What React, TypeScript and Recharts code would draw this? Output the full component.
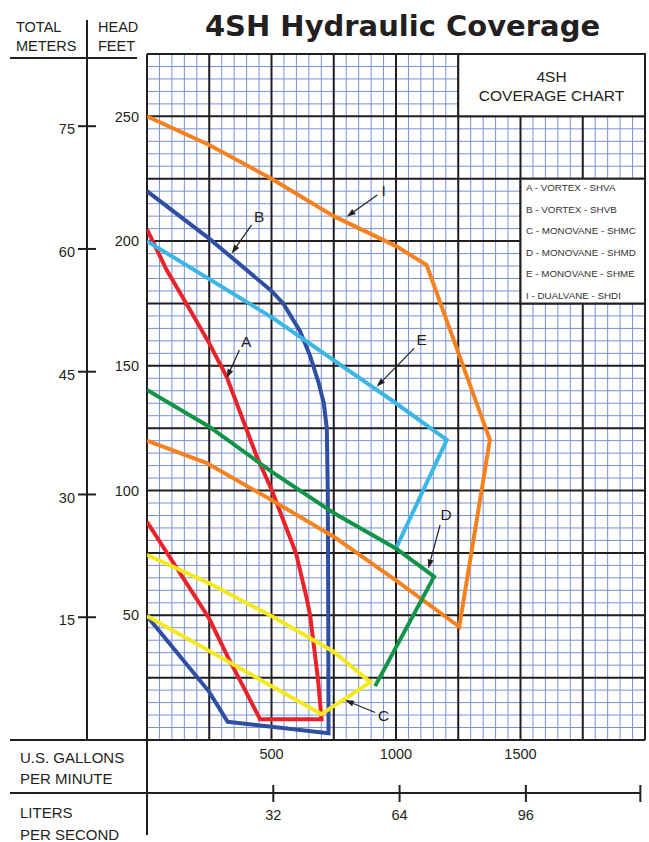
import {
  LineChart, Line, XAxis, YAxis, CartesianGrid,
  ReferenceArea, ReferenceLine, ReferenceDot,
} from 'recharts';

const INK = '#231f20';
const FONT = '"Liberation Sans", Arial, sans-serif';
const GPM_PER_LPS = 15.850;
const FT_PER_M = 3.28084;

// coverage curves as (US gpm, feet of head)
const curveA = [
  { gpm: 0, ft: 204.7 }, { gpm: 79, ft: 188.4 }, { gpm: 173, ft: 172.4 }, { gpm: 250, ft: 159 },
  { gpm: 320, ft: 145.6 }, { gpm: 400, ft: 124.5 }, { gpm: 441, ft: 113.6 }, { gpm: 501, ft: 100.2 },
  { gpm: 598, ft: 75 }, { gpm: 641, ft: 57 }, { gpm: 655, ft: 50 }, { gpm: 686, ft: 25 },
  { gpm: 701, ft: 8.3 }, { gpm: 454, ft: 8.3 }, { gpm: 394, ft: 20 }, { gpm: 327, ft: 32.8 },
  { gpm: 249, ft: 48.8 }, { gpm: 0, ft: 87.5 },
];
const curveB = [
  { gpm: 0, ft: 220 }, { gpm: 250, ft: 201 }, { gpm: 500, ft: 180 }, { gpm: 547, ft: 175 },
  { gpm: 614, ft: 164 }, { gpm: 655, ft: 154 }, { gpm: 690, ft: 143 }, { gpm: 710, ft: 135 },
  { gpm: 722, ft: 125 }, { gpm: 726, ft: 100 }, { gpm: 728, ft: 50 }, { gpm: 729, ft: 2.7 },
  { gpm: 324, ft: 7.3 }, { gpm: 249, ft: 19.4 }, { gpm: 0, ft: 49.7 },
];
const curveC = [
  { gpm: 0, ft: 74.2 }, { gpm: 250, ft: 62.8 }, { gpm: 500, ft: 49.7 }, { gpm: 750, ft: 35.4 },
  { gpm: 897, ft: 23.2 }, { gpm: 700, ft: 10.4 }, { gpm: 0, ft: 49.7 },
];
const curveD = [
  { gpm: 0, ft: 140.3 }, { gpm: 250, ft: 125.6 }, { gpm: 500, ft: 107.6 }, { gpm: 750, ft: 91 },
  { gpm: 1000, ft: 76.8 }, { gpm: 1153, ft: 65.5 }, { gpm: 916, ft: 21.6 },
];
const curveE = [
  { gpm: 0, ft: 200 }, { gpm: 500, ft: 169.5 }, { gpm: 1000, ft: 135 },
  { gpm: 1204, ft: 120.3 }, { gpm: 1000, ft: 76.8 },
];
const curveI = [
  { gpm: 0, ft: 250 }, { gpm: 250, ft: 238.5 }, { gpm: 500, ft: 225 }, { gpm: 750, ft: 210 },
  { gpm: 1000, ft: 198 }, { gpm: 1123, ft: 190.4 }, { gpm: 1377, ft: 120.3 }, { gpm: 1254, ft: 45.4 },
  { gpm: 1000, ft: 64 }, { gpm: 750, ft: 81.5 }, { gpm: 500, ft: 96.2 }, { gpm: 240, ft: 111 },
  { gpm: 0, ft: 120 },
];

const SERIES = [
  { id: 'B', data: curveB, color: '#2f4fa2' },
  { id: 'A', data: curveA, color: '#ea2229' },
  { id: 'I', data: curveI, color: '#f5821f' },
  { id: 'E', data: curveE, color: '#3cb6e7' },
  { id: 'D', data: curveD, color: '#119447' },
  { id: 'C', data: curveC, color: '#f4e91f' },
];

// letter callouts: label spot, arrow start, arrow tip (gpm, ft)
const CALLOUTS = [
  { label: 'I', at: [950, 220.2], from: [925, 218.5], to: [802, 209.8] },
  { label: 'B', at: [450, 210], from: [420, 206.5], to: [340, 195] },
  { label: 'A', at: [398, 159.7], from: [371, 156.3], to: [320, 145] },
  { label: 'E', at: [1103, 160.4], from: [1073, 157], to: [922, 141.6] },
  { label: 'D', at: [1201, 90.2], from: [1177, 86.2], to: [1130, 68.8] },
  { label: 'C', at: [950, 10], from: [916, 11], to: [795, 16] },
];

const GPM_TICKS = [500, 1000, 1500];
const LPS_TICKS = [32, 64, 96, 125];
const FEET_TICKS = [50, 100, 150, 200, 250];
const METER_TICKS = [15, 30, 45, 60, 75];

const MAJOR_X = [0, 250, 500, 750, 1000, 1250, 1500, 1750, 2000];
const MAJOR_Y = [0, 25, 50, 75, 100, 125, 150, 175, 200, 225, 250, 275];
const MINOR_X = Array.from({ length: 41 }, (_, i) => i * 50);
const MINOR_Y = Array.from({ length: 56 }, (_, i) => i * 5);

const LEGEND_LINES = [
  'A - VORTEX - SHVA',
  'B - VORTEX - SHVB',
  'C - MONOVANE - SHMC',
  'D - MONOVANE - SHMD',
  'E - MONOVANE - SHME',
  'I - DUALVANE - SHDI',
];

function MeterTick({ x, y, payload }: any) {
  return (
    <g>
      <line x1={x - 9} x2={x + 9} y1={y} y2={y} stroke={INK} strokeWidth={2} />
      <text x={x - 12} y={y + 3} dy="0.355em" textAnchor="end" fontSize={14.5} fill={INK} fontFamily={FONT}>
        {payload.value}
      </text>
    </g>
  );
}

function LpsTick({ x, y, payload }: any) {
  const last = payload.value === LPS_TICKS[LPS_TICKS.length - 1];
  return (
    <g>
      <line x1={x} x2={x} y1={y - 8} y2={y + 9} stroke={INK} strokeWidth={2} />
      {!last && (
        <text x={x} y={y + 27} textAnchor="middle" fontSize={14.5} fill={INK} fontFamily={FONT}>
          {payload.value}
        </text>
      )}
    </g>
  );
}

function CalloutArrow(props: any) {
  const { x1, y1, x2, y2 } = props;
  const a = Math.atan2(y2 - y1, x2 - x1);
  const bx = x2 - 9 * Math.cos(a);
  const by = y2 - 9 * Math.sin(a);
  const px = -Math.sin(a) * 3;
  const py = Math.cos(a) * 3;
  return (
    <g>
      <line x1={x1} y1={y1} x2={bx} y2={by} stroke={INK} strokeWidth={1.2} />
      <polygon points={`${x2},${y2} ${bx + px},${by + py} ${bx - px},${by - py}`} fill={INK} />
    </g>
  );
}

export default function App() {
  const txt = { fontFamily: FONT, fill: INK };
  return (
    <div style={{ position: 'absolute', left: 0, top: 0, width: 649, height: 842, background: '#fff' }}>
      <LineChart width={649} height={842} margin={{ top: 54, right: 4, bottom: 0, left: 0 }}>
        <CartesianGrid stroke="#7a90d5" strokeWidth={1} verticalValues={MINOR_X} horizontalValues={MINOR_Y} />
        <CartesianGrid stroke={INK} strokeWidth={2} verticalValues={MAJOR_X} horizontalValues={MAJOR_Y} />
        <XAxis
          dataKey="gpm" type="number" domain={[0, 2000]} allowDataOverflow ticks={GPM_TICKS} interval={0}
          height={53} axisLine={false} tickLine={false} tickSize={0} tickMargin={9}
          tick={{ fontSize: 14.5, fill: INK, fontFamily: FONT }}
        />
        <XAxis
          xAxisId="lps" dataKey="lps" type="number" domain={[0, 2000 / GPM_PER_LPS]} allowDataOverflow
          ticks={LPS_TICKS} interval={0} height={49} axisLine={false} tickLine={false} tickSize={0}
          tickMargin={0} tick={<LpsTick />}
        />
        <YAxis
          type="number" domain={[0, 275]} allowDataOverflow ticks={FEET_TICKS} interval={0} width={60}
          axisLine={false} tickLine={false} tickSize={0} tickMargin={8}
          tick={{ fontSize: 14.5, fill: INK, fontFamily: FONT }}
        />
        <YAxis
          yAxisId="m" type="number" domain={[0, 275 / FT_PER_M]} allowDataOverflow ticks={METER_TICKS}
          interval={0} width={87} axisLine={{ stroke: INK, strokeWidth: 2 }} tickLine={false}
          tickSize={0} tickMargin={0} tick={<MeterTick />}
        />
        <ReferenceArea x1={1250} x2={2000} y1={250} y2={275} fill="#fff" fillOpacity={1} stroke={INK} strokeWidth={2} />
        <ReferenceArea x1={1500} x2={2000} y1={175} y2={225} fill="#fff" fillOpacity={1} stroke={INK} strokeWidth={2} />
        {SERIES.map((s) => (
          <Line
            key={s.id} data={s.data} dataKey="ft" type="linear" stroke={s.color} strokeWidth={4}
            dot={false} activeDot={false} isAnimationActive={false}
          />
        ))}
        {CALLOUTS.map((c) => (
          <ReferenceLine
            key={`arrow-${c.label}`}
            segment={[{ x: c.from[0], y: c.from[1] }, { x: c.to[0], y: c.to[1] }]}
            shape={CalloutArrow}
          />
        ))}
        {CALLOUTS.map((c) => (
          <ReferenceDot
            key={`lbl-${c.label}`} x={c.at[0]} y={c.at[1]} r={0}
            shape={(p: any) => (
              <text x={p.cx} y={p.cy} dy="0.355em" textAnchor="middle" fontSize={15.5} {...txt}>{c.label}</text>
            )}
          />
        ))}
      </LineChart>

      <svg width={649} height={842} style={{ position: 'absolute', left: 0, top: 0, pointerEvents: 'none' }}>
        <text x={402.5} y={36} textAnchor="middle" fontFamily="DejaVu Sans" fontWeight="bold" fontSize={29} fill={INK}>
          4SH Hydraulic Coverage
        </text>
        <text x={16} y={32} fontSize={14.5} {...txt}>TOTAL</text>
        <text x={16} y={51} fontSize={14.5} {...txt}>METERS</text>
        <text x={98} y={32} fontSize={14.5} {...txt}>HEAD</text>
        <text x={98} y={51} fontSize={14.5} {...txt}>FEET</text>
        <line x1={10} x2={137} y1={58} y2={58} stroke={INK} strokeWidth={2} />
        <line x1={87} x2={87} y1={20} y2={56} stroke={INK} strokeWidth={2} />

        <line x1={10} x2={147} y1={740} y2={740} stroke={INK} strokeWidth={2} />
        <line x1={10} x2={641} y1={793} y2={793} stroke={INK} strokeWidth={2} />
        <line x1={147} x2={147} y1={740} y2={835} stroke={INK} strokeWidth={2} />
        <text x={20} y={763} fontSize={15} {...txt}>U.S. GALLONS</text>
        <text x={20} y={784} fontSize={15} {...txt}>PER MINUTE</text>
        <text x={20} y={818} fontSize={15} {...txt}>LITERS</text>
        <text x={20} y={840} fontSize={15} {...txt}>PER SECOND</text>

        <text x={551.5} y={81.5} textAnchor="middle" fontSize={15.5} {...txt}>4SH</text>
        <text x={551.5} y={101} textAnchor="middle" fontSize={15.5} {...txt}>COVERAGE CHART</text>
        {LEGEND_LINES.map((t, i) => (
          <text key={t} x={526} y={191 + i * 21.5} fontSize={9.8} fontFamily={FONT} fill="#333">{t}</text>
        ))}
      </svg>
    </div>
  );
}
